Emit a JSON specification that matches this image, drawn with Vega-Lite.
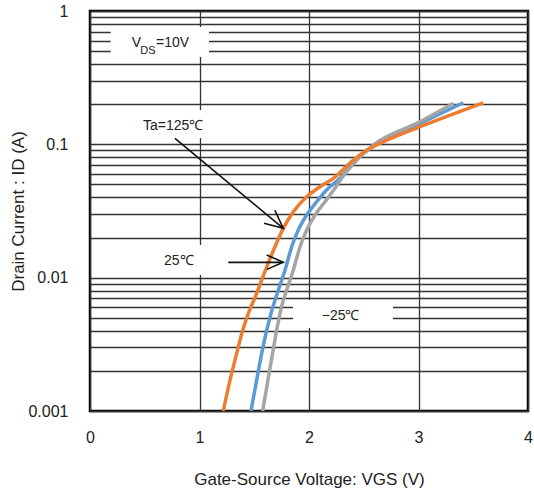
{
  "$schema": "https://vega.github.io/schema/vega-lite/v6.json",
  "width": 438,
  "height": 400,
  "autosize": {"type": "none"},
  "padding": {"left": 90, "top": 11, "right": 6, "bottom": 87},
  "background": "white",
  "config": {
    "view": {"stroke": "black", "strokeWidth": 2.5},
    "font": "Liberation Sans"
  },
  "datasets": {
    "curves": [
      {"T": "25", "V": 1.47, "I": 0.001},
      {"T": "25", "V": 1.522, "I": 0.001706},
      {"T": "25", "V": 1.568, "I": 0.002707},
      {"T": "25", "V": 1.614, "I": 0.004044},
      {"T": "25", "V": 1.662, "I": 0.005715},
      {"T": "25", "V": 1.72, "I": 0.008072},
      {"T": "25", "V": 1.781, "I": 0.0114},
      {"T": "25", "V": 1.842, "I": 0.01706},
      {"T": "25", "V": 1.902, "I": 0.02276},
      {"T": "25", "V": 1.979, "I": 0.0295},
      {"T": "25", "V": 2.07, "I": 0.0371},
      {"T": "25", "V": 2.176, "I": 0.04677},
      {"T": "25", "V": 2.283, "I": 0.05559},
      {"T": "25", "V": 2.436, "I": 0.0776},
      {"T": "25", "V": 2.63, "I": 0.101},
      {"T": "25", "V": 3.014, "I": 0.1437},
      {"T": "25", "V": 3.409, "I": 0.205},
      {"T": "-25", "V": 1.577, "I": 0.001},
      {"T": "-25", "V": 1.625, "I": 0.001706},
      {"T": "-25", "V": 1.662, "I": 0.00255},
      {"T": "-25", "V": 1.705, "I": 0.004044},
      {"T": "-25", "V": 1.749, "I": 0.006051},
      {"T": "-25", "V": 1.796, "I": 0.008072},
      {"T": "-25", "V": 1.857, "I": 0.0114},
      {"T": "-25", "V": 1.918, "I": 0.01706},
      {"T": "-25", "V": 1.979, "I": 0.02276},
      {"T": "-25", "V": 2.055, "I": 0.0295},
      {"T": "-25", "V": 2.146, "I": 0.0371},
      {"T": "-25", "V": 2.237, "I": 0.04677},
      {"T": "-25", "V": 2.32, "I": 0.0589},
      {"T": "-25", "V": 2.466, "I": 0.0807},
      {"T": "-25", "V": 2.587, "I": 0.0988},
      {"T": "-25", "V": 3.014, "I": 0.1477},
      {"T": "-25", "V": 3.318, "I": 0.203},
      {"T": "125", "V": 1.217, "I": 0.001},
      {"T": "125", "V": 1.279, "I": 0.001706},
      {"T": "125", "V": 1.34, "I": 0.002707},
      {"T": "125", "V": 1.387, "I": 0.003824},
      {"T": "125", "V": 1.446, "I": 0.005401},
      {"T": "125", "V": 1.51, "I": 0.007196},
      {"T": "125", "V": 1.614, "I": 0.01207},
      {"T": "125", "V": 1.689, "I": 0.01706},
      {"T": "125", "V": 1.765, "I": 0.02344},
      {"T": "125", "V": 1.857, "I": 0.03122},
      {"T": "125", "V": 1.979, "I": 0.04045},
      {"T": "125", "V": 2.1, "I": 0.04808},
      {"T": "125", "V": 2.222, "I": 0.05559},
      {"T": "125", "V": 2.405, "I": 0.07622},
      {"T": "125", "V": 2.557, "I": 0.09333},
      {"T": "125", "V": 2.648, "I": 0.1017},
      {"T": "125", "V": 3.014, "I": 0.1355},
      {"T": "125", "V": 3.592, "I": 0.205}
    ],
    "boxes": [
      {"x1": 0.189, "x2": 1.087, "y1": 0.4518, "y2": 0.7586},
      {"x1": 0.42, "x2": 1.15, "y1": 0.1115, "y2": 0.181},
      {"x1": 0.594, "x2": 1.068, "y1": 0.01047, "y2": 0.01757},
      {"x1": 1.854, "x2": 2.767, "y1": 0.00419, "y2": 0.00679}
    ],
    "labels": [
      {"x": 0.381, "y": 0.58, "t": "V", "s": 14},
      {"x": 0.46, "y": 0.505, "t": "DS", "s": 11},
      {"x": 0.603, "y": 0.58, "t": "=10V", "s": 14},
      {"x": 0.484, "y": 0.1372, "t": "Ta=125℃", "s": 14},
      {"x": 0.676, "y": 0.01332, "t": "25℃", "s": 14},
      {"x": 2.116, "y": 0.00515, "t": "−25℃", "s": 14}
    ],
    "arrows": [
      {"seg": "a1", "o": 1, "x": 0.776, "y": 0.1109},
      {"seg": "a1", "o": 2, "x": 1.765, "y": 0.02344},
      {"seg": "h1", "o": 1, "x": 1.589, "y": 0.02559},
      {"seg": "h1", "o": 2, "x": 1.765, "y": 0.02344},
      {"seg": "h1", "o": 3, "x": 1.688, "y": 0.03204},
      {"seg": "a2", "o": 1, "x": 1.263, "y": 0.01303},
      {"seg": "a2", "o": 2, "x": 1.765, "y": 0.01303},
      {"seg": "h2", "o": 1, "x": 1.614, "y": 0.01479},
      {"seg": "h2", "o": 2, "x": 1.765, "y": 0.01303},
      {"seg": "h2", "o": 3, "x": 1.614, "y": 0.01154}
    ]
  },
  "layer": [
    {
      "data": {"name": "curves"},
      "mark": {"type": "line", "strokeWidth": 3.5, "clip": true, "interpolate": "monotone"},
      "encoding": {
        "x": {
          "field": "V", "type": "quantitative",
          "scale": {"domain": [0, 4], "nice": false},
          "axis": {
            "values": [0, 1, 2, 3, 4],
            "format": "d",
            "title": "Gate-Source Voltage: VGS (V)",
            "grid": true, "gridColor": "#333", "gridWidth": 1.3, "gridOpacity": 1,
            "domain": false, "ticks": false,
            "labelFlush": false,
            "labelPadding": 18, "labelFontSize": 16, "labelColor": "#222",
            "labelFont": "Liberation Sans",
            "titleFont": "Liberation Sans", "titleFontSize": 17, "titleFontWeight": "normal",
            "titleColor": "#222", "titlePadding": 26
          }
        },
        "y": {
          "field": "I", "type": "quantitative",
          "scale": {"type": "log", "domain": [0.001, 1], "nice": false},
          "axis": {
            "values": [0.001, 0.002, 0.003, 0.004, 0.005, 0.006, 0.007, 0.008, 0.009,
                       0.01, 0.02, 0.03, 0.04, 0.05, 0.06, 0.07, 0.08, 0.09,
                       0.1, 0.2, 0.3, 0.4, 0.5, 0.6, 0.7, 0.8, 0.9, 1],
            "labelExpr": "datum.value == 1 ? '1' : datum.value == 0.1 ? '0.1' : datum.value == 0.01 ? '0.01' : datum.value == 0.001 ? '0.001' : ''",
            "labelOverlap": false,
            "title": "Drain Current : ID (A)",
            "grid": true, "gridColor": "#333", "gridWidth": 1.3, "gridOpacity": 1,
            "domain": false, "ticks": false,
            "labelFlush": false,
            "labelPadding": 22, "labelFontSize": 16, "labelColor": "#222",
            "labelFont": "Liberation Sans",
            "titleFont": "Liberation Sans", "titleFontSize": 17, "titleFontWeight": "normal",
            "titleColor": "#222",
            "titleX": -72, "titleY": 200, "titleBaseline": "middle", "titleAlign": "center"
          }
        },
        "color": {
          "field": "T", "type": "nominal",
          "scale": {"domain": ["25", "-25", "125"], "range": ["#5B9BD5", "#A5A5A5", "#ED7D31"]},
          "legend": null
        },
        "order": {"field": "V", "type": "quantitative"}
      }
    },
    {
      "data": {"name": "boxes"},
      "mark": {"type": "rect", "fill": "white", "stroke": null},
      "encoding": {
        "x": {"field": "x1", "type": "quantitative"},
        "x2": {"field": "x2"},
        "y": {"field": "y1", "type": "quantitative"},
        "y2": {"field": "y2"}
      }
    },
    {
      "data": {"name": "labels"},
      "mark": {"type": "text", "align": "left", "baseline": "middle", "font": "Liberation Sans", "color": "#222"},
      "encoding": {
        "x": {"field": "x", "type": "quantitative"},
        "y": {"field": "y", "type": "quantitative"},
        "text": {"field": "t"},
        "size": {"field": "s", "type": "quantitative", "scale": null}
      }
    },
    {
      "data": {"name": "arrows"},
      "mark": {"type": "line", "color": "#111", "strokeWidth": 1.6},
      "encoding": {
        "x": {"field": "x", "type": "quantitative"},
        "y": {"field": "y", "type": "quantitative"},
        "detail": {"field": "seg"},
        "order": {"field": "o", "type": "quantitative"}
      }
    }
  ]
}
